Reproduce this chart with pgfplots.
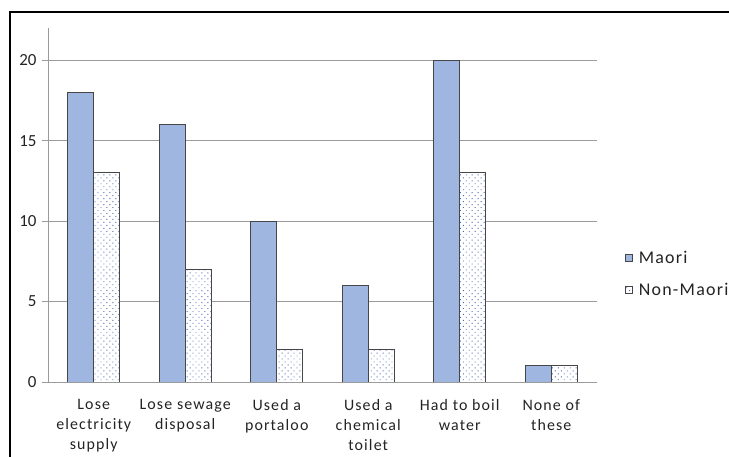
\documentclass[border=0pt]{standalone}
\usepackage{pgfplots}
\pgfplotsset{compat=1.18}
\usetikzlibrary{patterns.meta}
\usepackage{fontspec}
\setmainfont{Carlito}
\newfontfamily\catfont[LetterSpace=7]{Carlito}

\definecolor{maorifill}{RGB}{152,178,222}
\definecolor{dotblue}{RGB}{70,105,185}
\definecolor{edge}{RGB}{70,70,70}
\definecolor{gridgray}{RGB}{155,155,155}
\definecolor{labeltext}{RGB}{35,35,35}

\begin{document}
\begin{tikzpicture}
\useasboundingbox (0bp,0bp) rectangle (729bp,457bp);
% frame
\draw[line width=2bp, black] (10bp,0bp) -- (10bp,445bp) -- (729bp,445bp);
\begin{axis}[
  at={(48bp,75bp)}, anchor=south west,
  scale only axis, width=549bp, height=354bp,
  xmin=-0.5, xmax=5.5, ymin=0, ymax=22,
  ybar=0pt, bar width=26bp,
  axis x line=bottom, axis y line=left,
  axis line style={gridgray, -, line width=0.9bp},
  ytick={0,5,10,15,20},
  ymajorgrids, grid style={gridgray, line width=0.9bp},
  tick align=outside, major tick length=6bp,
  ytick style={gridgray, line width=0.9bp},
  xtick={0,1,2,3,4,5}, xtick style={draw=none},
  xticklabels={{Lose\\electricity\\supply},{Lose sewage\\disposal},{Used a\\portaloo},{Used a\\chemical\\toilet},{Had to boil\\water},{None of\\these}},
  xticklabel style={align=center, font=\catfont\fontsize{16}{20}\selectfont, text=labeltext, yshift=-8bp},
  yticklabel style={font=\fontsize{17}{19}\selectfont, text=labeltext, xshift=-2bp},
  /pgf/number format/assume math mode=true,
  legend style={at={(1.045,0.305)}, anchor=west, draw=none, fill=none,
    font=\catfont\fontsize{18}{21}\selectfont, text=labeltext, row sep=15bp,
    legend cell align=left},
  legend image code/.code={\draw[#1] (0bp,-3.5bp) rectangle (7bp,3.5bp); \path (11bp,0bp);},
]
\addplot[draw=edge, line width=0.9bp, fill=maorifill,
  postaction={pattern={Dots[distance=2bp, radius=0.45bp]}, pattern color=white!85!maorifill}]
  coordinates {(0,18) (1,16) (2,10) (3,6) (4,20) (5,1)};
\addplot[draw=edge, line width=0.9bp, fill=white,
  postaction={pattern={Dots[angle=45, distance=4.2bp, radius=0.65bp]}, pattern color=dotblue}]
  coordinates {(0,13) (1,7) (2,2) (3,2) (4,13) (5,1)};
\legend{Maori, Non-Maori}
\end{axis}
\end{tikzpicture}
\end{document}
